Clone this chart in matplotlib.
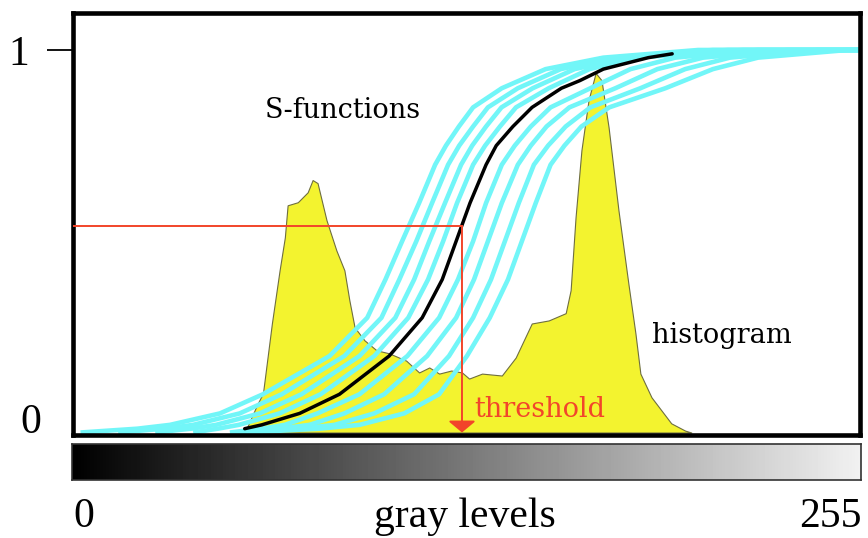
import numpy as np
import matplotlib.pyplot as plt
from matplotlib.patches import ArrowStyle

# gray-level histogram (outline points), heights scaled to the membership axis
hist_gray = [55.8, 60.0, 61.7, 64.6, 67.1, 68.8, 69.7, 73.0, 76.2, 77.8, 79.4, 82.3,
             85.5, 88.1, 89.7, 91.4, 94.6, 98.5, 102.6, 108.1, 112.3, 115.6, 118.8,
             122.7, 126.2, 128.5, 132.7, 139.1, 143.6, 148.8, 154.3, 159.8, 161.4,
             163.0, 164.9, 167.2, 169.5, 171.4, 173.7, 176.9, 180.1, 182.4, 184.0,
             187.6, 190.8, 194.0, 198.5, 200.5]
hist_height = [0.0, 0.076, 0.102, 0.285, 0.424, 0.510, 0.594, 0.602, 0.628, 0.660,
               0.652, 0.555, 0.476, 0.424, 0.346, 0.275, 0.241, 0.215, 0.207, 0.188,
               0.157, 0.170, 0.154, 0.162, 0.157, 0.141, 0.154, 0.149, 0.196, 0.285,
               0.293, 0.312, 0.372, 0.563, 0.738, 0.869, 0.940, 0.921, 0.798, 0.581,
               0.390, 0.259, 0.154, 0.092, 0.058, 0.024, 0.005, 0.0]

levels = [0.0, 0.01, 0.02, 0.05, 0.1, 0.2, 0.3, 0.4, 0.5, 0.6, 0.7, 0.75, 0.8,
          0.85, 0.9, 0.95, 0.98, 1.0]

# family of S-functions: gray level where each curve reaches the levels above
cyan_curves = [
    [2.6, 21.0, 31.6, 47.8, 61.7, 83.3, 95.5, 101.4, 106.8, 112.3, 117.5, 121.0, 125.2, 129.8, 139.1, 153.3, 172.0, 202.7],
    [14.8, 29.7, 39.1, 54.2, 67.8, 88.1, 100.1, 105.9, 111.4, 116.5, 121.7, 125.3, 129.8, 134.6, 144.3, 158.2, 175.6, 207.5],
    [26.8, 38.4, 46.5, 60.7, 74.2, 93.0, 104.6, 110.7, 115.6, 120.7, 125.9, 129.5, 134.0, 139.0, 149.1, 162.7, 179.5, 212.4],
    [39.1, 47.1, 53.9, 67.1, 80.4, 97.8, 108.8, 115.2, 120.1, 124.6, 129.8, 133.7, 138.5, 143.7, 154.3, 167.5, 183.0, 217.2],
    [51.0, 61.3, 68.8, 79.4, 93.0, 108.5, 118.8, 124.9, 129.8, 134.0, 139.1, 143.3, 148.5, 154.9, 167.8, 180.8, 195.3, 222.1],
    [52.6, 67.1, 76.8, 88.1, 101.0, 114.9, 124.3, 130.1, 134.6, 139.1, 144.3, 148.5, 153.6, 161.0, 175.9, 189.5, 204.3, 231.8],
    [54.2, 73.6, 84.9, 97.8, 110.7, 122.0, 129.8, 135.6, 140.1, 144.6, 149.5, 154.1, 159.8, 167.8, 184.0, 198.5, 213.0, 241.4],
    [55.8, 80.0, 93.0, 107.5, 118.8, 127.8, 135.2, 141.1, 145.6, 150.1, 154.9, 159.4, 164.9, 173.9, 192.1, 207.5, 222.1, 251.1],
]

# the selected S-function
black_levels = [0.01, 0.02, 0.05, 0.1, 0.2, 0.3, 0.4, 0.5, 0.6, 0.7, 0.75, 0.8,
                0.85, 0.9, 0.92, 0.95, 0.98, 0.99]
black_gray = [55.8, 61.3, 73.6, 86.5, 102.6, 113.3, 119.8, 124.3, 128.8, 134.0, 137.3,
              142.7, 148.9, 158.4, 164.4, 172.0, 186.6, 194.3]

threshold = 126.2
threshold_level = 0.539
gray_levels = np.arange(256)

CYAN = "#72f6f8"
YELLOW = "#f3f32f"
RED = "#f2452a"

fig = plt.figure(figsize=(8.68, 5.38), dpi=100)
W, H = 868, 538

ax = fig.add_axes([72.5 / W, 1 - 435 / H, 787 / W, 422.5 / H])
ax.set_xlim(0, 255)
ax.set_ylim(-0.0065, 1.098)

ax.fill_between(hist_gray, hist_height, color=YELLOW, edgecolor="#6e6e40", lw=0.8, zorder=1)

for xs in cyan_curves:
    ax.plot(xs + [255], levels + [1.0], color=CYAN, lw=3.3, solid_capstyle="butt",
            solid_joinstyle="round", zorder=2)
ax.plot(black_gray, black_levels, color="black", lw=2.5, solid_capstyle="round",
        solid_joinstyle="round", zorder=3)

# threshold marker
ax.plot([0, threshold], [threshold_level, threshold_level], color=RED, lw=1.4, zorder=4)
ax.annotate("", xy=(threshold, 0.0), xytext=(threshold, threshold_level),
            arrowprops=dict(arrowstyle=ArrowStyle("-|>", head_length=0.5, head_width=0.6),
                            color=RED, lw=1.4, mutation_scale=14, shrinkA=0, shrinkB=0),
            zorder=4)

for s in ax.spines.values():
    s.set_linewidth(3.3)
ax.set_xticks([])
ax.set_yticks([1])
ax.set_yticklabels(["1"], fontfamily="Liberation Serif", fontsize=30)
ax.tick_params(axis="y", length=19, width=1.3, pad=12)

serif = "DejaVu Serif"
fig.text(265 / W, 1 - 118 / H, "S-functions", fontfamily=serif, fontsize=19.5, va="baseline")
fig.text(652 / W, 1 - 343 / H, "histogram", fontfamily=serif, fontsize=19.5, va="baseline")
fig.text(474 / W, 1 - 417 / H, "threshold", fontfamily=serif, fontsize=19.5, va="baseline", color=RED)
fig.text(20 / W, 1 - 433 / H, "0", fontfamily="Liberation Serif", fontsize=30, va="baseline")

# gray wedge under the axis
bar = fig.add_axes([72 / W, 1 - 480 / H, 789 / W, 36 / H])
bar.imshow(gray_levels[np.newaxis, :], cmap="gray", aspect="auto", vmin=0, vmax=270,
           extent=(0, 255, 0, 1))
bar.set_xticks([])
bar.set_yticks([])
for s in bar.spines.values():
    s.set_linewidth(1.2)
    s.set_color("#333333")

fig.text(73 / W, 1 - 527 / H, "0", fontfamily="Liberation Serif", fontsize=30, va="baseline")
fig.text(465 / W, 1 - 527 / H, "gray levels", fontfamily="Liberation Serif", fontsize=30,
         va="baseline", ha="center")
fig.text(862 / W, 1 - 527 / H, "255", fontfamily="Liberation Serif", fontsize=30,
         va="baseline", ha="right")

fig.savefig("out.png", dpi=100)
